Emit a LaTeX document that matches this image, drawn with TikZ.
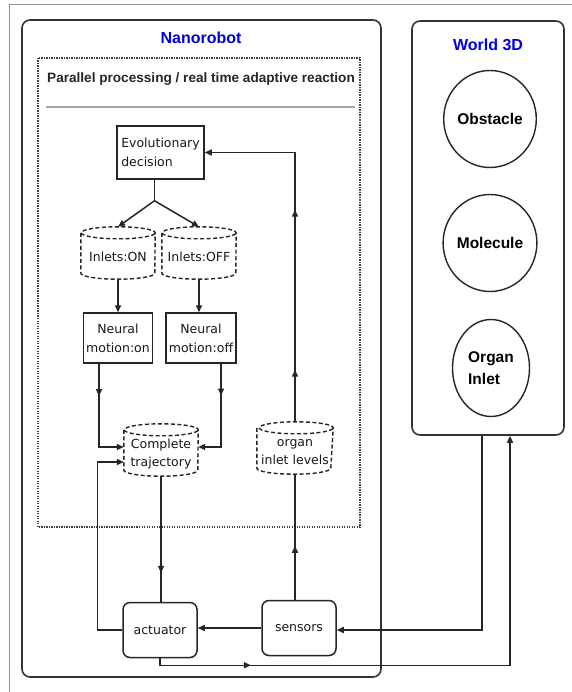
\documentclass[tikz,border=0pt]{standalone}
\usepackage{fontspec}
\setmainfont{Liberation Sans}
\newfontfamily\dvfont{DejaVu Sans}
\usetikzlibrary{arrows.meta,decorations.markings,shapes.geometric}
\newcommand{\cyldraw}[1]{%
  \draw[cylline] ([yshift=-6pt]#1.north west) -- ([yshift=6pt]#1.south west)
    arc[start angle=180,end angle=360,x radius=37pt,y radius=6pt]
    -- ([yshift=-6pt]#1.north east)
    arc[start angle=0,end angle=360,x radius=37pt,y radius=6pt];}
\begin{document}
\begin{tikzpicture}[x=1pt,y=1pt,
  conn/.style={line width=1.5pt, draw=black!85},
  tip/.style={-{Triangle[length=7pt,width=6pt]}},
  midtip/.style={postaction={decorate},decoration={markings,
     mark=at position #1 with {\arrow{Triangle[length=7pt,width=6pt]}}}},
  txt/.style={font=\dvfont\fontsize{12.5}{19}\selectfont, text=black!90},
  cyltxt/.style={font=\dvfont\fontsize{12.5}{18}\selectfont, text=black!90, align=center, yshift=-4pt},
  procbox/.style={txt, draw=black!85, line width=1.5pt, inner sep=1pt, align=center},
  ioround/.style={txt, draw=black!85, line width=1.5pt, rounded corners=7pt,
     minimum width=74pt, minimum height=55pt, inner sep=1pt},
  cylnode/.style={minimum width=74pt, minimum height=52pt, inner sep=0pt},
  cylline/.style={draw=black!85, line width=1.4pt, dash pattern=on 4pt off 2.5pt},
  title/.style={font=\bfseries\fontsize{16}{18}\selectfont, text=blue!90!black},
  worldobj/.style={ellipse, draw=black!85, line width=1.4pt, minimum width=77pt,
     minimum height=97pt, inner sep=0pt, font=\bfseries\fontsize{15.5}{22}\selectfont}
]
\useasboundingbox (0,0) rectangle (571,-692);
\fill[white] (0,0) rectangle (571,-692);

% outer frame
\draw[draw=gray!85, line width=0.8pt, double=white, double distance=0.8pt]
  (10,-5) rectangle (610,-730);

% containers
\node[draw=black!80, line width=1.6pt, rounded corners=8pt, minimum width=359pt,
      minimum height=657pt, inner sep=0pt] (nano) at (201.5,-348.5) {};
\node[draw=black!80, line width=1.6pt, rounded corners=8pt, minimum width=152pt,
      minimum height=414pt, inner sep=0pt] (world) at (488,-228) {};
\node[title] (nanot) at (201,-38) {Nanorobot};
\node[title] (worldt) at (488,-45) {World 3D};

% dotted region
\draw[black!75, line width=1.2pt, dash pattern=on 1.2pt off 1.3pt] (38,-58) rectangle (360,-527);
\node[font=\bfseries\fontsize{13.6}{15}\selectfont, text=black!85] (par) at (201,-79)
  {Parallel processing / real time adaptive reaction};
\draw[gray!70, line width=2pt] (46,-107) -- (355,-107);

% world objects
\node[worldobj] (obst) at (490,-119) {Obstacle};
\node[worldobj] (mol) at (490,-243) {Molecule};
\node[worldobj, align=left] (organ) at (491,-368) {Organ\\Inlet};

% processing nodes
\node[procbox, minimum width=87pt, minimum height=53pt, align=left] (evo) at (160.5,-152.5)
  {Evolutionary\\decision};
\node[cylnode, label={[cyltxt]center:Inlets:ON}] (inon) at (118,-253) {};
\node[cylnode, label={[cyltxt]center:Inlets:OFF}] (inoff) at (199,-253) {};
\node[procbox, minimum width=69pt, minimum height=50pt] (non) at (118,-338) {Neural\\motion:on};
\node[procbox, minimum width=70pt, minimum height=50pt] (noff) at (201,-338) {Neural\\motion:off};
\node[cylnode, label={[cyltxt]center:{Complete\\trajectory}}] (ctraj) at (161,-450) {};
\node[cylnode, minimum width=76pt, label={[cyltxt]center:{organ\\inlet levels}}] (orgl) at (295,-448) {};
\node[ioround] (act) at (160,-630) {actuator};
\node[ioround] (sens) at (299,-628) {sensors};

\cyldraw{inon}
\cyldraw{inoff}
\cyldraw{ctraj}
\cyldraw{orgl}

% connectors
\coordinate (split) at ([xshift=-6pt,yshift=-21pt]evo.south);
\draw[conn] ([xshift=-6pt]evo.south) -- (split);
\draw[conn, tip] (split) -- (inon.north);
\draw[conn, tip] (split) -- (inoff.north);
\draw[conn, tip] (inon.south) -- (non.north);
\draw[conn, tip] (inoff.south) -- (inoff.south |- noff.north);
\draw[conn, tip, midtip=0.3] ([xshift=-19pt]non.south) |- ([yshift=3pt]ctraj.west);
\draw[conn, tip, midtip=0.3] ([xshift=20pt]noff.south) |- ([yshift=3pt]ctraj.east);
\draw[conn, midtip=0.77] (ctraj.south) -- (ctraj.south |- act.north);
\draw[conn, tip] (act.west) -- ++(-25,0) |- ([yshift=-12pt]ctraj.west);
\draw[conn, tip] (sens.west) -- (sens.west -| act.east);
\draw[conn, midtip=0.43] (sens.north -| orgl.south) -- (orgl.south);
\draw[conn, tip, postaction={decorate}, decoration={markings,
   mark=at position 0.145 with {\arrow{Triangle[length=7pt,width=6pt]}},
   mark=at position 0.59 with {\arrow{Triangle[length=7pt,width=6pt]}}}]
  (orgl.north) |- (evo.east);
\draw[conn, tip] ([xshift=-6pt]world.south) |- ([yshift=-2pt]sens.east);
\draw[conn, tip, midtip=0.167] (act.south) -- ++(0,-7) -| ([xshift=22pt]world.south);
\end{tikzpicture}
\end{document}
